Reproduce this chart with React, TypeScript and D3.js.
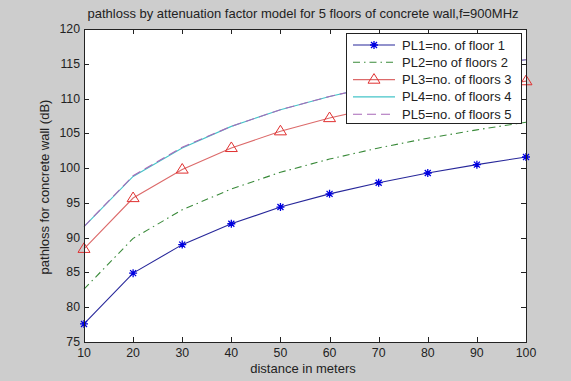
import { useEffect, useRef } from "react"
import * as d3 from "d3"

const distances = [10, 20, 30, 40, 50, 60, 70, 80, 90, 100]
const pl1 = [77.6, 84.9, 89.0, 92.0, 94.4, 96.3, 97.9, 99.3, 100.5, 101.6]
const pl2 = [82.6, 89.9, 94.0, 97.0, 99.4, 101.3, 102.9, 104.3, 105.5, 106.6]
const pl3 = [88.4, 95.7, 99.8, 102.9, 105.3, 107.2, 108.8, 110.2, 111.4, 112.5]
const pl4 = [91.6, 98.8, 102.9, 106.0, 108.4, 110.3, 111.9, 113.3, 114.5, 115.6]
const pl5 = [91.6, 98.9, 103.0, 106.0, 108.4, 110.3, 111.9, 113.3, 114.5, 115.6]
const legendLabels = [
    "PL1=no. of floor 1",
    "PL2=no of floors 2",
    "PL3=no. of floors 3",
    "PL4=no. of floors 4",
    "PL5=no. of floors 5",
]
const xTicks = [10, 20, 30, 40, 50, 60, 70, 80, 90, 100]
const yTicks = [75, 80, 85, 90, 95, 100, 105, 110, 115, 120]

const W = 571
const H = 381
const FONT = "'Liberation Sans', Arial, sans-serif"

type Series = { values: number[]; color: string; dash: string | null; marker: string | null; markerColor: string }

const series: Series[] = [
    { values: pl1, color: "#27279a", dash: null, marker: "star", markerColor: "#0000e0" },
    { values: pl2, color: "#3a8a3a", dash: "7,4,1.5,4", marker: null, markerColor: "" },
    { values: pl3, color: "#dc6a6a", dash: null, marker: "tri", markerColor: "#e03030" },
    { values: pl4, color: "#45c4c8", dash: null, marker: null, markerColor: "" },
    { values: pl5, color: "#a868b8", dash: "9,5", marker: null, markerColor: "" },
]

function drawMarker(g: any, kind: string, x: number, y: number, color: string) {
    if (kind === "star") {
        const r = 4
        const d = 3
        g.append("path")
            .attr("d", `M${x - r},${y}L${x + r},${y}M${x},${y - r}L${x},${y + r}M${x - d},${y - d}L${x + d},${y + d}M${x - d},${y + d}L${x + d},${y - d}`)
            .attr("stroke", color)
            .attr("stroke-width", 1.3)
            .attr("fill", "none")
    } else if (kind === "tri") {
        const r = 6
        g.append("path")
            .attr("d", `M${x},${y - r}L${x + r},${y + r * 0.6}L${x - r},${y + r * 0.6}Z`)
            .attr("stroke", color)
            .attr("stroke-width", 1)
            .attr("fill", "none")
    }
}

export default function App() {
    const svgRef = useRef<SVGSVGElement>(null)

    useEffect(() => {
        if (!svgRef.current) return
        const svg = d3.select(svgRef.current)
        svg.selectAll("*").remove()

        const left = 84, right = 526, top = 29, bottom = 342

        const x = d3.scaleLinear().domain([10, 100]).range([left, right])
        const y = d3.scaleLinear().domain([75, 120]).range([bottom, top])

        svg.append("rect").attr("width", W).attr("height", H).attr("fill", "#cdcdcd")
        svg.append("rect")
            .attr("x", left).attr("y", top)
            .attr("width", right - left).attr("height", bottom - top)
            .attr("fill", "#fff")

        // ticks on all four sides, pointing in
        const tl = 5
        const ticks = svg.append("g").attr("stroke", "#222").attr("stroke-width", 1)
        xTicks.forEach(t => {
            const px = Math.round(x(t)) + 0.5
            ticks.append("line").attr("x1", px).attr("x2", px).attr("y1", bottom).attr("y2", bottom - tl)
            ticks.append("line").attr("x1", px).attr("x2", px).attr("y1", top).attr("y2", top + tl)
        })
        yTicks.forEach(t => {
            const py = Math.round(y(t)) + 0.5
            ticks.append("line").attr("x1", left).attr("x2", left + tl).attr("y1", py).attr("y2", py)
            ticks.append("line").attr("x1", right).attr("x2", right - tl).attr("y1", py).attr("y2", py)
        })

        const plot = svg.append("g")
        series.forEach(s => {
            const line = d3.line<number>()
                .x((_, i) => x(distances[i]))
                .y(v => y(v))
            plot.append("path")
                .attr("d", line(s.values))
                .attr("fill", "none")
                .attr("stroke", s.color)
                .attr("stroke-width", 1.1)
                .attr("stroke-dasharray", s.dash)
            if (s.marker) {
                s.values.forEach((v, i) => drawMarker(plot, s.marker as string, x(distances[i]), y(v), s.markerColor))
            }
        })

        svg.append("rect")
            .attr("x", left + 0.5).attr("y", top + 0.5)
            .attr("width", right - left).attr("height", bottom - top)
            .attr("fill", "none").attr("stroke", "#222").attr("stroke-width", 1)

        const label = svg.append("g").attr("font-family", FONT).attr("font-size", 12.3).attr("fill", "#222")
        xTicks.forEach(t => {
            label.append("text").attr("x", x(t)).attr("y", bottom + 15).attr("text-anchor", "middle").text(t)
        })
        yTicks.forEach(t => {
            label.append("text").attr("x", left - 4).attr("y", y(t) + 4).attr("text-anchor", "end").text(t)
        })

        const big = svg.append("g").attr("font-family", FONT).attr("font-size", 13).attr("fill", "#222")
        big.append("text").attr("x", 303).attr("y", 373).attr("text-anchor", "middle")
            .text("distance in meters")
        big.append("text")
            .attr("transform", `translate(49,187) rotate(-90)`)
            .attr("text-anchor", "middle")
            .text("pathloss for concrete wall (dB)")
        big.append("text").attr("x", 303).attr("y", 18).attr("text-anchor", "middle")
            .text("pathloss by attenuation factor model for 5 floors of concrete wall,f=900MHz")

        // legend
        const lg = svg.append("g")
        lg.append("rect")
            .attr("x", 346.5).attr("y", 33.5).attr("width", 175).attr("height", 90)
            .attr("fill", "#fff").attr("stroke", "#222").attr("stroke-width", 1)
        series.forEach((s, i) => {
            const ly = 45 + i * 17.3
            lg.append("line")
                .attr("x1", 353).attr("x2", 395).attr("y1", ly).attr("y2", ly)
                .attr("stroke", s.color).attr("stroke-width", 1.1)
                .attr("stroke-dasharray", s.dash)
            if (s.marker) drawMarker(lg, s.marker, 374, ly, s.markerColor)
            lg.append("text")
                .attr("x", 402).attr("y", ly + 4.5)
                .attr("font-family", FONT).attr("font-size", 13).attr("fill", "#222")
                .text(legendLabels[i])
        })
    }, [])

    return (
        <svg
            ref={svgRef}
            width={W}
            height={H}
            viewBox={`0 0 ${W} ${H}`}
            style={{ position: "absolute", left: 0, top: 0, display: "block" }}
        />
    )
}
